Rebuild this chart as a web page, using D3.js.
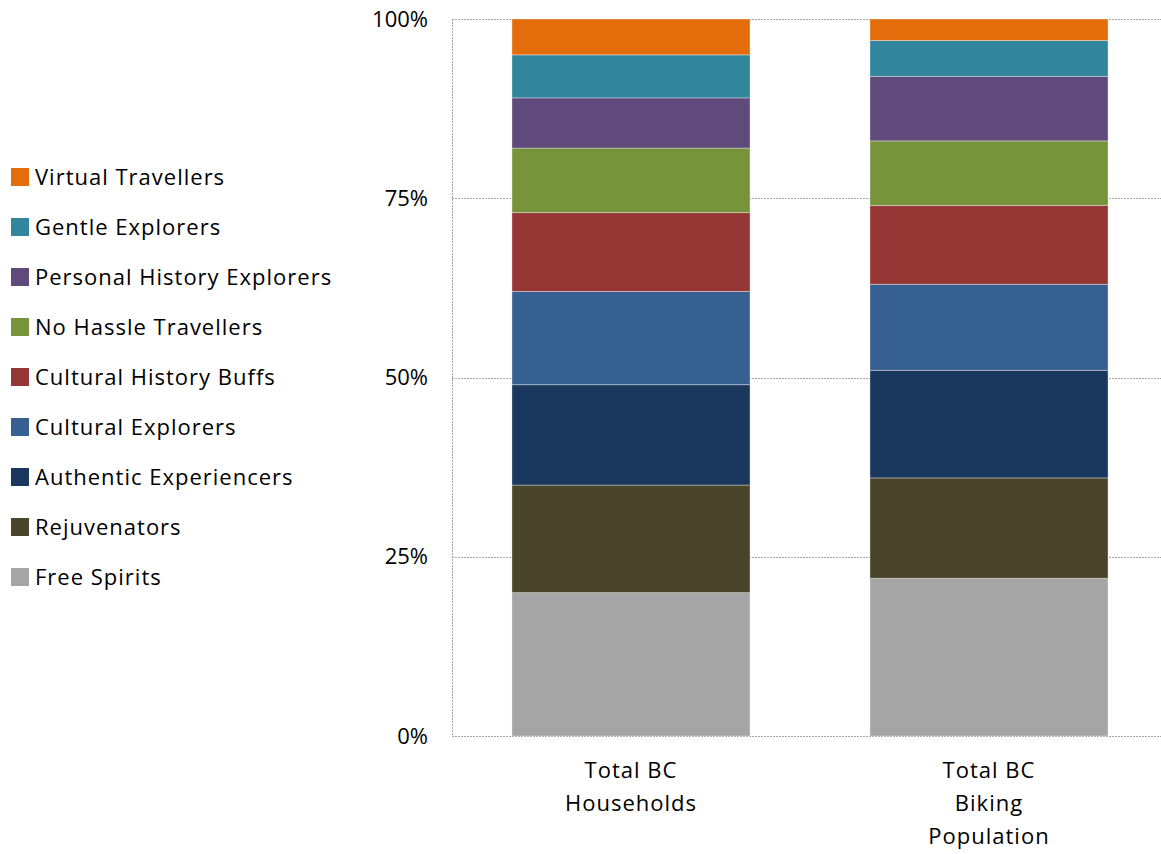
<!DOCTYPE html>
<html>
<head>
<meta charset="utf-8">
<script src="https://cdnjs.cloudflare.com/ajax/libs/d3/7.8.5/d3.min.js"></script>
<style>
  body { margin: 0; background: #fff; }
  text { font-family: "Open Sans", "Liberation Sans", sans-serif; fill: #000; }
</style>
</head>
<body>
<svg id="chart" width="1161" height="854"></svg>
<script>
(function(){
    "use strict";

    //categories along x (multi line labels)
    var categories = ["Total BC Households", "Total BC Biking Population"];
    var categoryLines = [["Total BC", "Households"], ["Total BC", "Biking", "Population"]];

    //segments, bottom to top
    var segments = ["Free Spirits", "Rejuvenators", "Authentic Experiencers", "Cultural Explorers",
        "Cultural History Buffs", "No Hassle Travellers", "Personal History Explorers",
        "Gentle Explorers", "Virtual Travellers"];
    var segmentColors = ["#a5a5a5", "#4a452a", "#1a375e", "#376092",
        "#953735", "#77933c", "#604a7b", "#31859c", "#e46c0a"];

    //percent per segment, same order as segments
    var householdsValues = [20, 15, 14, 13, 11, 9, 7, 6, 5];
    var bikingValues = [22, 14, 15, 12, 11, 9, 9, 5, 3];

    var yTicks = [0, 25, 50, 75, 100];

    var svg = d3.select("#chart");
    var left = 452, right = 1168, top = 19, bottom = 736;

    var x = d3.scaleBand().domain(categories).range([left, right]).paddingInner(0.335).paddingOuter(0.1675);
    var y = d3.scaleLinear().domain([0, 100]).range([bottom, top]);

    //gridlines
    svg.append("g").selectAll("line")
        .data(yTicks)
        .enter().append("line")
        .attr("x1", left).attr("x2", 1161)
        .attr("y1", function(d){ return Math.round(y(d)) + 0.5; })
        .attr("y2", function(d){ return Math.round(y(d)) + 0.5; })
        .attr("stroke", "#a6a6a6")
        .attr("stroke-width", 1)
        .attr("stroke-dasharray", "2,1");

    //y axis line
    svg.append("line")
        .attr("x1", left + 0.5).attr("x2", left + 0.5)
        .attr("y1", top).attr("y2", bottom)
        .attr("stroke", "#a6a6a6")
        .attr("stroke-dasharray", "2,1");

    //y tick labels
    svg.append("g").selectAll("text")
        .data(yTicks)
        .enter().append("text")
        .attr("x", 428)
        .attr("y", function(d){ return y(d); })
        .attr("dy", "0.35em")
        .attr("text-anchor", "end")
        .style("font-size", "22px")
        .text(function(d){ return d + "%"; });

    //stacked data
    var rows = categories.map(function(c, i){
        var vals = i === 0 ? householdsValues : bikingValues;
        var row = {category: c};
        segments.forEach(function(s, j){ row[s] = vals[j]; });
        return row;
    });
    var stack = d3.stack().keys(segments);
    var series = stack(rows);

    svg.append("g").selectAll("g")
        .data(series)
        .enter().append("g")
        .attr("fill", function(d, i){ return segmentColors[i]; })
        .selectAll("rect")
        .data(function(d){ return d; })
        .enter().append("rect")
        .attr("x", function(d){ return x(d.data.category); })
        .attr("width", x.bandwidth())
        .attr("y", function(d){ return y(d[1]); })
        .attr("height", function(d){ return y(d[0]) - y(d[1]); })
        .attr("stroke", "rgba(255,255,255,0.35)")
        .attr("stroke-width", 1);

    //x labels
    var xl = svg.append("g").selectAll("text")
        .data(categories)
        .enter().append("text")
        .attr("x", function(d){ return x(d) + x.bandwidth() / 2; })
        .attr("y", 778)
        .attr("text-anchor", "middle")
        .style("font-size", "22px")
        .style("letter-spacing", "1px");
    xl.selectAll("tspan")
        .data(function(d, i){ return categoryLines[i]; })
        .enter().append("tspan")
        .attr("x", function(){ return d3.select(this.parentNode).attr("x"); })
        .attr("dy", function(d, i){ return i === 0 ? 0 : 33; })
        .text(function(d){ return d; });

    //legend, top to bottom is reverse of stack
    var legendItems = segments.map(function(s, i){ return {name: s, color: segmentColors[i]}; }).reverse();
    var lg = svg.append("g").selectAll("g")
        .data(legendItems)
        .enter().append("g")
        .attr("transform", function(d, i){ return "translate(11," + (177 + i * 50) + ")"; });
    lg.append("rect")
        .attr("x", 0).attr("y", -9)
        .attr("width", 18).attr("height", 18)
        .attr("fill", function(d){ return d.color; });
    lg.append("text")
        .attr("x", 24)
        .attr("dy", "0.35em")
        .style("font-size", "22px")
        .style("letter-spacing", "1px")
        .text(function(d){ return d.name; });
})();
</script>
</body>
</html>
